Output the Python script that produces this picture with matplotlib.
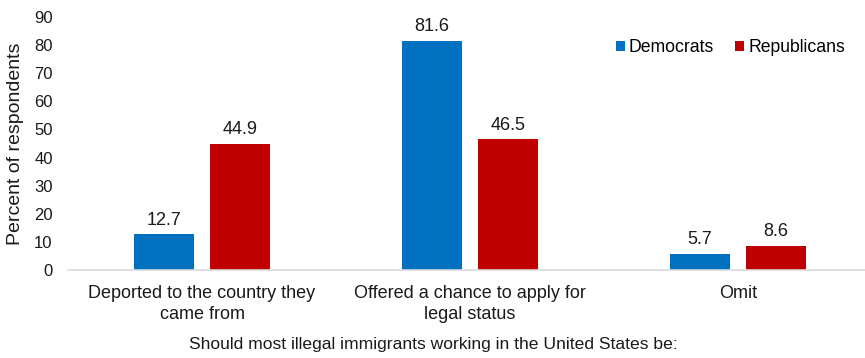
import numpy as np
import matplotlib
matplotlib.use("Agg")
import matplotlib.pyplot as plt

# survey answers, percent of respondents
categories = ["Deported to the country they\ncame from",
              "Offered a chance to apply for\nlegal status",
              "Omit"]
democrats = [12.7, 81.6, 5.7]
republicans = [44.9, 46.5, 8.6]
yticks = [0, 10, 20, 30, 40, 50, 60, 70, 80, 90]

plt.rcParams['font.family'] = ['Liberation Sans', 'DejaVu Sans']
plt.rcParams['font.size'] = 12

fig = plt.figure(figsize=(8.65, 3.58), dpi=100)
# plot area runs a little past the right edge, like the reference crop
ax = fig.add_axes([68 / 865, 88 / 358, 804 / 865, 253 / 358])

x = np.arange(len(categories))
w = 0.224
off = 0.142
b1 = ax.bar(x - off, democrats, w, color='#0070C0', label='Democrats')
b2 = ax.bar(x + off, republicans, w, color='#C00000', label='Republicans')

for bars, vals in ((b1, democrats), (b2, republicans)):
    for rect, v in zip(bars, vals):
        ax.annotate(f"{v:.1f}", (rect.get_x() + rect.get_width() / 2, v),
                    xytext=(0, 4), textcoords='offset points',
                    ha='center', va='bottom', color='#1a1a1a', fontsize=13)

ax.set_xlim(-0.5, 2.5)
ax.set_ylim(0, 90)
ax.set_yticks(yticks)
ax.set_xticks(x)
ax.set_xticklabels(categories, linespacing=1.28, fontsize=13)
ax.tick_params(axis='both', length=0, colors='#1a1a1a')
ax.tick_params(axis='x', pad=11)
ax.tick_params(axis='y', pad=11)

for s in ('top', 'right', 'left'):
    ax.spines[s].set_visible(False)
ax.spines['bottom'].set_color('#d9d9d9')
ax.spines['bottom'].set_linewidth(1.2)

fig.text(16 / 865, 1 - 144 / 358, "Percent of respondents", rotation=90,
         ha='center', va='center', color='#1a1a1a', fontsize=14)
fig.text(433 / 865, 1 - 345 / 358,
         "Should most illegal immigrants working in the United States be:",
         ha='center', va='center', color='#1a1a1a', fontsize=12.6)

fig.legend(loc='center', bbox_to_anchor=(730.5 / 865, 1 - 48 / 358), ncol=2,
           frameon=False, handlelength=0.5, handleheight=0.5,
           handletextpad=0.25, columnspacing=1.2, fontsize=12.7)

fig.savefig("out.png", dpi=100)
